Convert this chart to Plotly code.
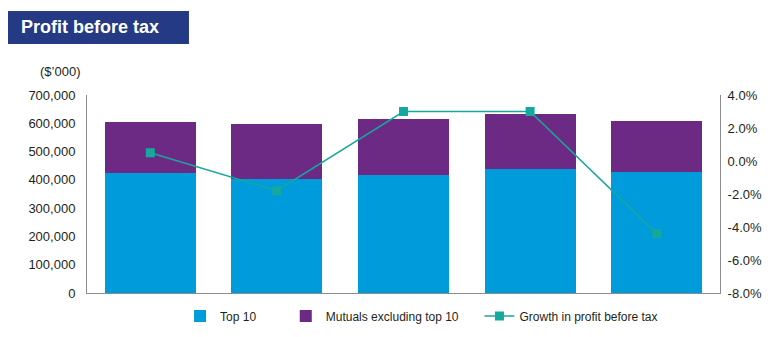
import plotly.graph_objects as go

# Data
periods = ["P1", "P2", "P3", "P4", "P5"]
top10 = [423000, 402000, 416000, 437000, 428000]
mutuals_ex_top10 = [182000, 194000, 200000, 197000, 179000]
growth_pct = [0.5, -1.8, 3.0, 3.0, -4.4]

left_ticks = [0, 100000, 200000, 300000, 400000, 500000, 600000, 700000]
right_ticks = [-8, -6, -4, -2, 0, 2, 4]

BLUE = "#009BDB"
PURPLE = "#6D2A84"
TEAL = "#15A89E"
NAVY = "#243A85"
TXT = "#231F20"
AXIS = "#8C8C8C"
FONT = "Arial, Liberation Sans, sans-serif"

fig = go.Figure()
fig.add_trace(go.Bar(x=periods, y=top10, name="Top 10", marker=dict(color=BLUE, line=dict(width=0)),
                     legend="legend"))
fig.add_trace(go.Bar(x=periods, y=mutuals_ex_top10, name="Mutuals excluding top 10",
                     marker=dict(color=PURPLE, line=dict(width=0)), legend="legend2"))
fig.add_trace(go.Scatter(x=periods, y=growth_pct, name="Growth in profit before tax", yaxis="y2",
                         mode="lines+markers", line=dict(color=TEAL, width=1.5),
                         marker=dict(symbol="square", size=9, color=TEAL), legend="legend3"))

# One legend per series so each entry can be placed on its own
leg_common = dict(orientation="h", yref="container", yanchor="middle", y=1 - 316 / 337,
                  xanchor="left", font=dict(family=FONT, size=12, color=TXT),
                  bgcolor="rgba(0,0,0,0)", itemwidth=30, tracegroupgap=0)

fig.update_layout(
    width=783, height=337,
    margin=dict(l=87, r=63, t=95, b=44, autoexpand=False),
    paper_bgcolor="white", plot_bgcolor="white",
    barmode="stack", bargap=0.28,
    font=dict(family=FONT, size=13, color=TXT),
    showlegend=True,
    legend=dict(x=0.147, **leg_common),
    legend2=dict(x=0.314, **leg_common),
    legend3=dict(x=0.620, **leg_common),
    xaxis=dict(showticklabels=False, showline=True, linecolor=AXIS, linewidth=1,
               showgrid=False, zeroline=False, ticks=""),
    yaxis=dict(range=[0, 700000], tickvals=left_ticks, tickformat=",d",
               showline=True, linecolor=AXIS, linewidth=1, showgrid=False, zeroline=False,
               ticks="", ticklabelstandoff=8),
    yaxis2=dict(range=[-8, 4], tickvals=right_ticks, ticktext=[f"{v:.1f}%" for v in right_ticks],
                overlaying="y", side="right", showline=True, linecolor=AXIS, linewidth=1,
                showgrid=False, zeroline=False, ticks="", ticklabelstandoff=4),
    shapes=[dict(type="rect", xref="paper", yref="paper", x0=-0.1248, x1=0.1611, y0=1.258, y1=1.424,
                 fillcolor=NAVY, line=dict(width=0), layer="above")],
    annotations=[
        dict(text="<b>Profit before tax</b>", xref="paper", yref="paper", x=-0.1074, y=1.341,
             xanchor="left", yanchor="middle", showarrow=False,
             font=dict(family=FONT, size=18, color="white")),
        dict(text="($\u2019000)", xref="paper", yref="paper", x=-0.0427, y=1.121,
             xanchor="center", yanchor="middle", showarrow=False,
             font=dict(family=FONT, size=13, color=TXT)),
    ],
)

fig.write_html("out.html")
